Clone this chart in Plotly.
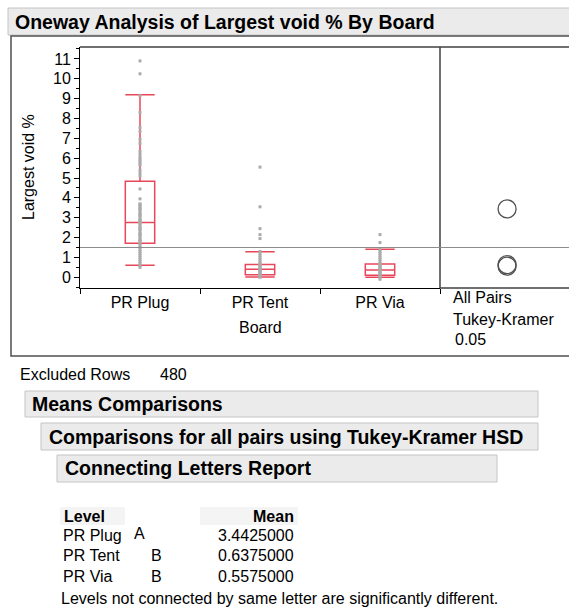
import plotly.graph_objects as go

W, H = 569, 608

# ---------------- data ----------------
levels = ["PR Plug", "PR Tent", "PR Via"]
box_q1 = [1.71, 0.13, 0.10]
box_median = [2.76, 0.40, 0.37]
box_q3 = [4.84, 0.64, 0.67]
box_lower = [0.60, 0.02, 0.00]
box_upper = [9.20, 1.28, 1.41]

plug_values = [10.9, 10.25, 9.15, 8.3, 7.55, 7.35, 6.95, 6.75, 6.35, 6.2, 6.05, 5.95,
               5.85, 5.75, 5.65, 5.4, 5.25, 5.1, 4.45, 3.95, 3.7, 3.65, 3.6, 3.5, 3.45,
               3.4, 3.3, 3.2, 3.15, 3.1, 3.0, 2.9, 2.85, 2.8, 2.75, 2.7, 2.6, 2.5, 2.45,
               2.4, 2.3, 2.2, 2.15, 2.1, 2.0, 1.9, 1.85, 1.8, 1.7, 1.6, 1.5, 1.4, 1.3,
               1.2, 1.1, 1.0, 0.9, 0.8, 0.7, 0.6, 0.5]
tent_values = [5.55, 3.55, 2.45, 2.15, 1.95, 1.3, 1.2, 1.1, 1.0, 0.9, 0.8, 0.7, 0.65,
               0.6, 0.55, 0.5, 0.45, 0.4, 0.35, 0.3, 0.25, 0.2, 0.15, 0.1, 0.05, 0.0]
via_values = [2.15, 1.75, 1.4, 1.3, 1.2, 1.1, 1.0, 0.9, 0.8, 0.7, 0.65, 0.6, 0.55, 0.5,
              0.45, 0.4, 0.35, 0.3, 0.25, 0.2, 0.15, 0.1, 0.05, 0.0, -0.1]

grand_mean = 1.50

letters = ["A", "B", "B"]
means = [3.4425, 0.6375, 0.5575]
mean_labels = ["3.4425000", "0.6375000", "0.5575000"]

y_ticks = list(range(0, 12))

# ---------------- helpers ----------------
def px(x):
    return x / W

def py(y):
    return 1 - y / H

FONT = "Liberation Sans, Arial, sans-serif"
RED = "#E8475A"
FS = 16

fig = go.Figure()

pt_x, pt_y = [], []
for lvl, vals in zip(levels, [plug_values, tent_values, via_values]):
    pt_x += [lvl] * len(vals)
    pt_y += vals

fig.add_trace(go.Box(
    x=levels, q1=box_q1, median=box_median, q3=box_q3,
    lowerfence=box_lower, upperfence=box_upper,
    boxpoints=False, width=0.245, whiskerwidth=1,
    line=dict(color=RED, width=1.5), fillcolor="rgba(0,0,0,0)",
    showlegend=False, hoverinfo="skip",
))

fig.add_trace(go.Scatter(
    x=pt_x, y=pt_y, mode="markers",
    marker=dict(color="#ABABAB", size=3, symbol="square"),
    showlegend=False, hoverinfo="skip",
))

fig.add_trace(go.Scatter(
    x=[0.52] * len(means), y=means, xaxis="x2", yaxis="y", mode="markers",
    marker=dict(symbol="circle-open", size=18, color="#505050", line=dict(width=1.3)),
    showlegend=False, hoverinfo="skip",
))

y0d, y1d = py(288), py(47)

fig.update_layout(
    width=W, height=H, margin=dict(l=0, r=0, t=0, b=0),
    paper_bgcolor="white", plot_bgcolor="white",
    font=dict(family=FONT, size=FS, color="black"),
    xaxis=dict(
        domain=[px(80), px(440)], type="category", categoryorder="array",
        categoryarray=levels, range=[-0.5, 2.5],
        showline=True, linecolor="black", linewidth=1,
        ticks="outside", tickson="boundaries", ticklen=5, tickcolor="black",
        tickfont=dict(size=FS, color="black", family=FONT),
        showgrid=False, zeroline=False, fixedrange=True,
    ),
    xaxis2=dict(domain=[px(440), 1], range=[0, 1], anchor="y", visible=False,
                showgrid=False, zeroline=False),
    yaxis=dict(
        domain=[y0d, y1d], range=[-0.54, 11.6],
        tickvals=y_ticks, ticktext=[str(v) for v in y_ticks],
        showline=True, linecolor="black", linewidth=1,
        ticks="outside", ticklen=5, tickcolor="black",
        minor=dict(ticks="outside", ticklen=3, tickcolor="black",
                   tickvals=[v + 0.5 for v in y_ticks[:-1]] + [-0.5, 11.5]),
        tickfont=dict(size=FS, color="black", family=FONT),
        showgrid=False, zeroline=False,
    ),
)

shapes = []
shapes.append(dict(type="rect", xref="paper", yref="paper", x0=px(8), x1=px(575),
                   y0=py(35), y1=py(8), fillcolor="#EBEBEB", line=dict(color="#C4C4C4", width=1),
                   layer="below"))
shapes.append(dict(type="rect", xref="paper", yref="paper", x0=px(11), x1=px(580),
                   y0=py(356), y1=py(36), fillcolor="rgba(0,0,0,0)",
                   line=dict(color="#505050", width=1.5)))
shapes.append(dict(type="line", xref="paper", yref="paper", x0=px(80), x1=1,
                   y0=py(47), y1=py(47), line=dict(color="#404040", width=1.5)))
shapes.append(dict(type="line", xref="paper", yref="paper", x0=px(440), x1=px(440),
                   y0=py(288), y1=py(47), line=dict(color="#404040", width=1.5)))
shapes.append(dict(type="line", xref="paper", yref="paper", x0=px(440), x1=1,
                   y0=py(288), y1=py(288), line=dict(color="#404040", width=1.5)))
shapes.append(dict(type="line", xref="paper", yref="y", x0=px(80), x1=1,
                   y0=grand_mean, y1=grand_mean, line=dict(color="#8C8C8C", width=1)))

for x0, x1, y0, y1 in [(25, 538, 391, 417), (41, 538, 423, 450), (57, 497, 455, 482)]:
    shapes.append(dict(type="rect", xref="paper", yref="paper", x0=px(x0), x1=px(x1),
                       y0=py(y1), y1=py(y0), fillcolor="#EBEBEB",
                       line=dict(color="#C4C4C4", width=1), layer="below"))
for x0, x1 in [(60, 125), (200, 298)]:
    shapes.append(dict(type="rect", xref="paper", yref="paper", x0=px(x0), x1=px(x1),
                       y0=py(525), y1=py(507), fillcolor="#F4F4F4",
                       line=dict(width=0), layer="below"))
fig.update_layout(shapes=shapes)

ann = []
def text(x, y, s, size=FS, bold=False, xanchor="left", color="black"):
    ann.append(dict(xref="paper", yref="paper", x=px(x), y=py(y), text=f"<b>{s}</b>" if bold else s,
                    showarrow=False, xanchor=xanchor, yanchor="middle",
                    font=dict(family=FONT, size=size, color=color)))

text(13, 22, "Oneway Analysis of Largest void % By Board", size=19.5, bold=True)
ann.append(dict(xref="paper", yref="paper", x=px(28), y=py(167), text="Largest void %",
                textangle=-90, showarrow=False, xanchor="center", yanchor="middle",
                font=dict(family=FONT, size=FS, color="black")))
text(260, 327, "Board", xanchor="center")
text(451, 298, "All Pairs")
text(451, 319, "Tukey-Kramer")
text(453, 339, "0.05")
text(18, 374, "Excluded Rows")
text(158, 374, "480")
text(30, 404, "Means Comparisons", size=19.5, bold=True)
text(47, 437, "Comparisons for all pairs using Tukey-Kramer HSD", size=19.5, bold=True)
text(63, 468, "Connecting Letters Report", size=19.5, bold=True)
text(62, 516, "Level", bold=True)
text(296, 516, "Mean", bold=True, xanchor="right")
letter_x = {"A": 132, "B": 149}
for i, (lvl, let, ml) in enumerate(zip(levels, letters, mean_labels)):
    yy = [535, 555, 576][i]
    text(61, yy, lvl)
    text(letter_x[let], yy - 2 if let == "A" else yy, let)
    text(296, yy, ml, xanchor="right")
text(59, 598, "Levels not connected by same letter are significantly different.")
fig.update_layout(annotations=ann)

fig.write_html("out.html", config={"displayModeBar": False},
               post_script="document.body.style.margin='0';document.body.style.overflow='hidden';")
